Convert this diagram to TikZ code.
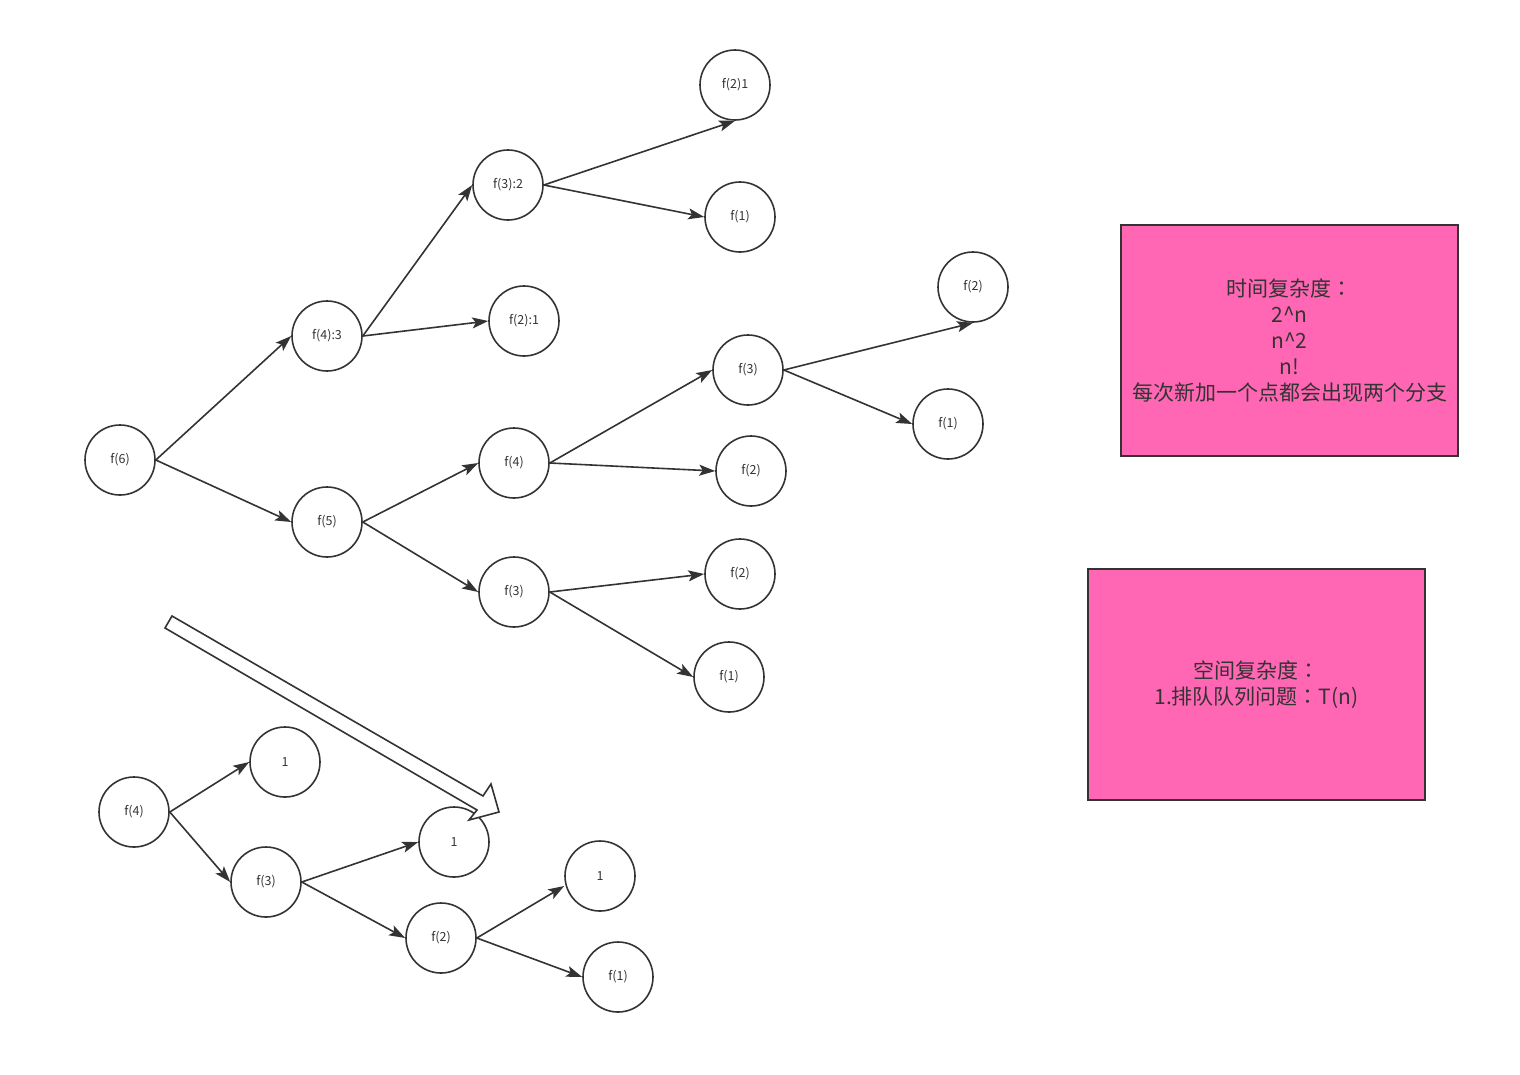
\documentclass[tikz,border=0pt]{standalone}
\usepackage{fontspec}
\setmainfont{Noto Sans CJK SC}
\newfontfamily\tcfont{Noto Sans CJK TC}
\usetikzlibrary{arrows.meta,calc}
\definecolor{ink}{HTML}{333333}
\definecolor{pinkfill}{HTML}{FF66B3}
\newcommand{\fwcolon}{{\tcfont ：}}
\begin{document}
\begin{tikzpicture}[x=1pt,y=-1pt,
  nd/.style={circle,draw=ink,line width=1.6pt,minimum size=70pt,inner sep=0pt,text=ink,font=\fontsize{12.5}{14}\selectfont},
  edge/.style={draw=ink,line width=1.6pt,-{Stealth[length=16pt,width=11pt,inset=3.5pt]}},
  infobox/.style={draw=ink,line width=1.6pt,fill=pinkfill,text=ink,align=center,font=\fontsize{21}{25.8}\selectfont,inner sep=0pt}]
\useasboundingbox (0,0) rectangle (1520,1074);
% top tree
\node[nd] (f6) at (120,460) {f(6)};
\node[nd] (f43) at (327,336) {f(4):3};
\node[nd] (f5) at (327,522) {f(5)};
\node[nd] (f32) at (508,185) {f(3):2};
\node[nd] (f21b) at (524,321) {f(2):1};
\node[nd] (f21) at (735,85) {f(2)1};
\node[nd] (f1a) at (740,217) {f(1)};
\node[nd] (f4m) at (514,463) {f(4)};
\node[nd] (f3m) at (514,592) {f(3)};
\node[nd] (f3r) at (748,370) {f(3)};
\node[nd] (f2a) at (751,471) {f(2)};
\node[nd] (f2b) at (740,574) {f(2)};
\node[nd] (f1b) at (729,677) {f(1)};
\node[nd] (f2c) at (973,287) {f(2)};
\node[nd] (f1c) at (948,424) {f(1)};
\draw[edge] (f6.east) -- (f43.west);
\draw[edge] (f6.east) -- (f5.west);
\draw[edge] (f43.east) -- (f32.west);
\draw[edge] (f43.east) -- (f21b.west);
\draw[edge] (f32.east) -- (f21.south);
\draw[edge] (f32.east) -- (f1a.west);
\draw[edge] (f5.east) -- (f4m.west);
\draw[edge] (f5.east) -- (f3m.west);
\draw[edge] (f4m.east) -- (f3r.west);
\draw[edge] (f4m.east) -- (f2a.west);
\draw[edge] (f3r.east) -- (f2c.south);
\draw[edge] (f3r.east) -- (f1c.west);
\draw[edge] (f3m.east) -- (f2b.west);
\draw[edge] (f3m.east) -- (f1b.west);
% bottom tree
\node[nd] (g4) at (134,812) {f(4)};
\node[nd] (g1a) at (285,762) {1};
\node[nd] (g3) at (266,882) {f(3)};
\node[nd] (g1b) at (454,842) {1};
\node[nd] (g2) at (441,938) {f(2)};
\node[nd] (g1c) at (600,876) {1};
\node[nd] (g1d) at (618,977) {f(1)};
\draw[edge] (g4.east) -- (g1a.west);
\draw[edge] (g4.east) -- (g3.west);
\draw[edge] (g3.east) -- (g1b.west);
\draw[edge] (g3.east) -- (g2.west);
\draw[edge] (g2.east) -- ($(g1c.west)+(0,10)$);
\draw[edge] (g2.east) -- (g1d.west);
% big hollow arrow
\draw[ink,line width=1.6pt,fill=white,line join=miter]
  (172,616) -- (483,796) -- (491,784) -- (499,812) -- (469,820) -- (477,810) -- (165,628) -- cycle;
% boxes
\node[infobox,minimum width=337pt,minimum height=231pt] (tbox) at (1289.5,340.5)
  {时间复杂度\fwcolon\\2\^{}n\\n\^{}2\\n!\\每次新加一个点都会出现两个分支};
\node[infobox,minimum width=337pt,minimum height=231pt] (sbox) at (1256.5,684.5)
  {空间复杂度\fwcolon\\1.排队队列问题\fwcolon T(n)};
\end{tikzpicture}
\end{document}
